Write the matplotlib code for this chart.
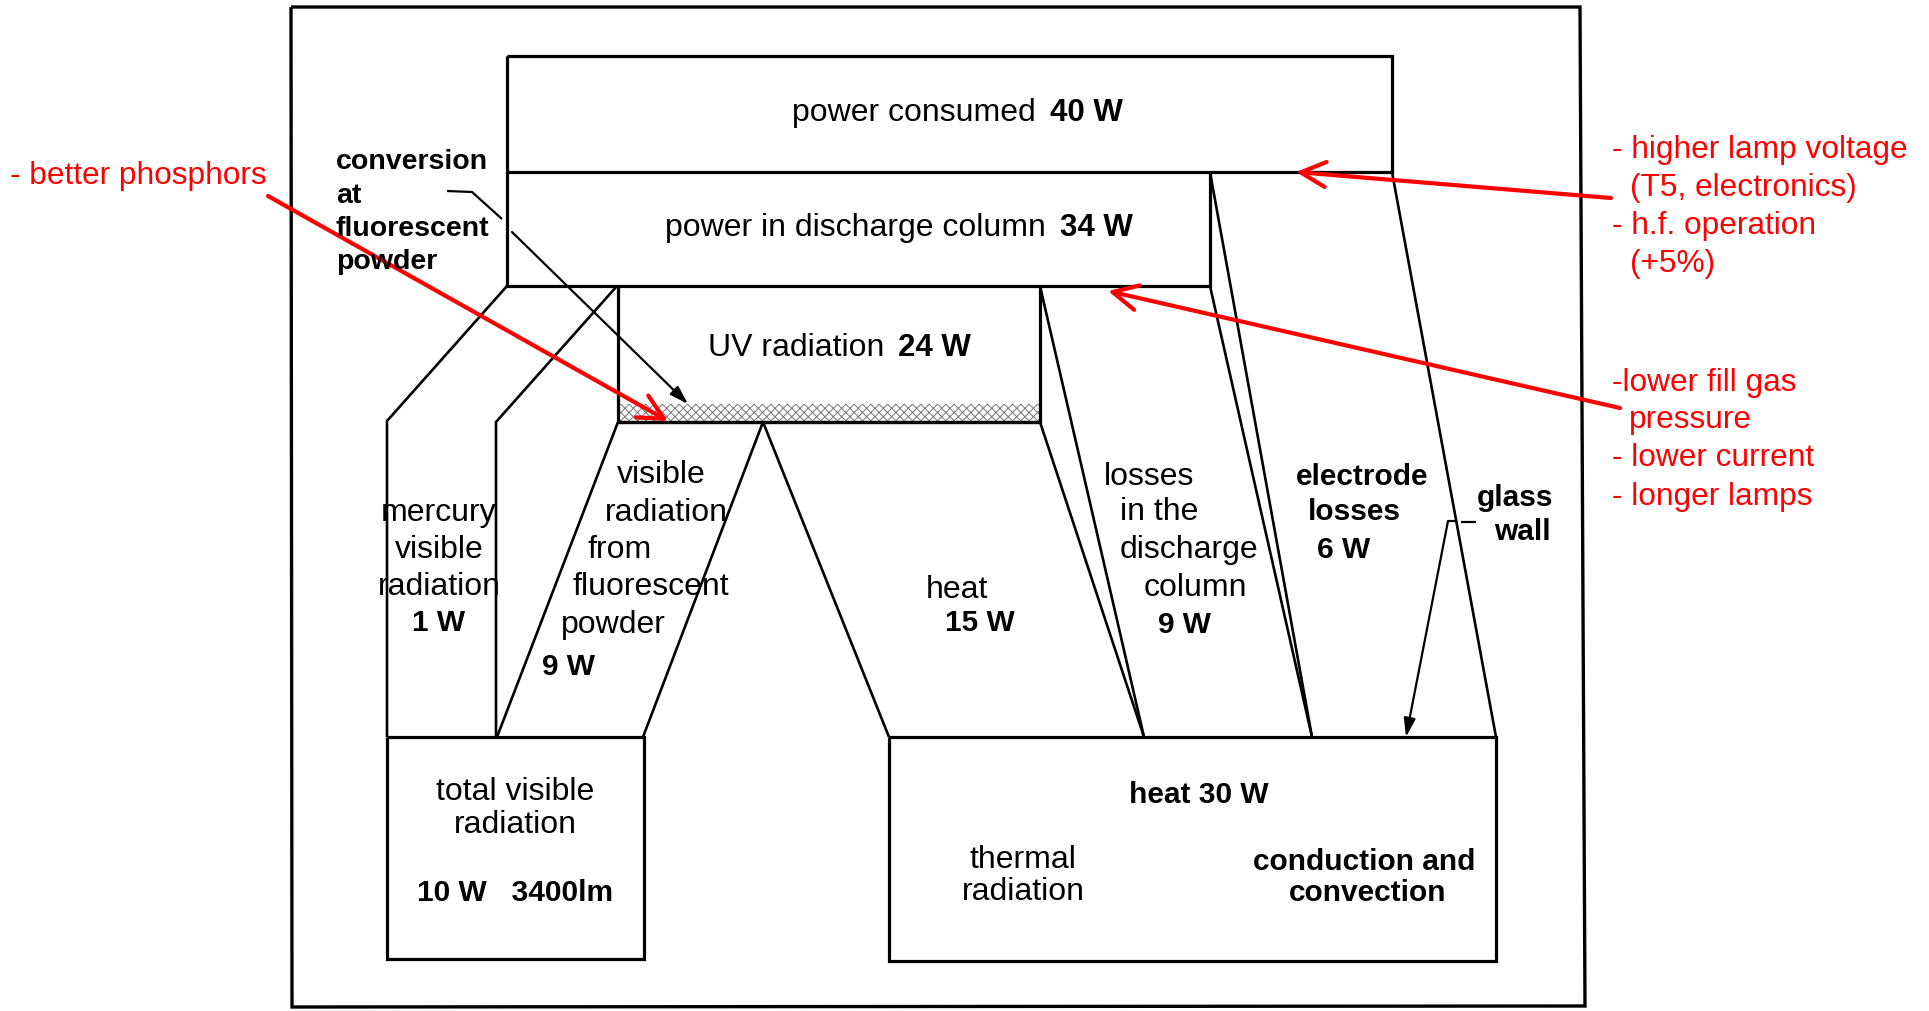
import matplotlib
matplotlib.use('Agg')
import matplotlib.pyplot as plt
from matplotlib.patches import Rectangle

# energy balance of a 40 W fluorescent lamp
stage_labels = ['power consumed', 'power in discharge column', 'UV radiation']
stage_watts = [40, 34, 24]
mercury_visible_w = 1
fluor_visible_w = 9
uv_heat_w = 15
column_loss_w = 9
electrode_loss_w = 6
total_visible_w = 10
total_lumen = 3400
total_heat_w = 30

notes_top = ['- higher lamp voltage', '(T5, electronics)', '- h.f. operation', '(+5%)']
notes_mid = ['-lower fill gas', 'pressure', '- lower current', '- longer lamps']
note_left = '- better phosphors'

FONT = 'Liberation Sans'
FS = 23      # regular labels
FSB = 21.5   # bold labels

plt.rcParams['hatch.linewidth'] = 0.7

fig = plt.figure(figsize=(19.29, 10.12), dpi=100)
ax = fig.add_axes([0, 0, 1, 1])
ax.set_xlim(0, 1929)
ax.set_ylim(1012, 0)
ax.axis('off')

K = 'black'
LW = 2.3   # box lines
FW = 1.9   # flow lines


def line(pts, lw=FW, color=K):
    xs, ys = zip(*pts)
    ax.plot(xs, ys, color=color, lw=lw, solid_capstyle='butt', solid_joinstyle='miter')


def txt(x, y, s, bold=False, ha='center', fs=None):
    if fs is None:
        fs = FSB if bold else FS
    ax.text(x, y, s, ha=ha, va='center', fontsize=fs, family=[FONT, 'DejaVu Sans'],
            fontweight='bold' if bold else 'normal', color=K)


def two_part(xs, y, left, right):
    txt(xs, y, left, ha='right')
    txt(xs + 14, y, right, bold=True, ha='left', fs=22.5)


# outer frame
line([(291, 8), (1580, 8), (1585, 1007), (292, 1008), (291, 8)], lw=2.4)

# boxes
line([(507, 57), (1392, 57), (1392, 173), (507, 173), (507, 57)], lw=LW)
line([(507, 173), (507, 287), (1210, 287), (1210, 173)], lw=LW)
line([(618, 287), (618, 423), (1040, 423), (1040, 287)], lw=LW)
ax.add_patch(Rectangle((618, 405), 422, 18, facecolor='white', edgecolor='#777777',
                       hatch='xxxx', lw=0))
line([(618, 423), (1040, 423)], lw=LW)
line([(387, 738), (644, 738), (644, 960), (387, 960), (387, 738)], lw=LW)
line([(889, 738), (1496, 738), (1496, 962), (889, 962), (889, 738)], lw=LW)

# flows
line([(507, 287), (387, 422), (387, 738)])
line([(617, 287), (496, 423), (496, 738)])
line([(618, 423), (497, 738)])
line([(763, 423), (643, 738)])
line([(763, 423), (889, 738)])
line([(1040, 423), (1144, 738)])
line([(1040, 287), (1144, 738)])
line([(1210, 173), (1312, 738)])
line([(1210, 287), (1312, 738)])
line([(1392, 173), (1496, 738)])

# leaders
line([(447, 192), (472, 193), (502, 220)], lw=1.6)
ax.annotate('', xy=(688, 405), xytext=(512, 233),
            arrowprops=dict(arrowstyle='-|>,head_length=0.8,head_width=0.25', color=K, lw=1.6,
                            shrinkA=0, shrinkB=0, mutation_scale=14))
line([(1448, 522), (1456, 522)], lw=1.6)
line([(1461, 523), (1476, 523)], lw=1.6)
ax.annotate('', xy=(1406, 738), xytext=(1448, 522),
            arrowprops=dict(arrowstyle='-|>,head_length=0.8,head_width=0.25', color=K, lw=1.6,
                            shrinkA=0, shrinkB=0, mutation_scale=14))

# red annotations
red_arrows = [((268, 197), (668, 422)), ((1611, 199), (1296, 173)), ((1620, 409), (1108, 292))]
for start, tip in red_arrows:
    ax.annotate('', xy=tip, xytext=start,
                arrowprops=dict(arrowstyle='->,head_length=0.9,head_width=0.45', color='red',
                                lw=3, shrinkA=0, shrinkB=0, mutation_scale=20))

RFS = 22.8
ax.text(10, 176, note_left, color='red', fontsize=RFS, family=FONT, va='center')
top_y = [150, 188, 226, 264]
mid_y = [383, 420, 458, 497]
for s, y in zip(notes_top, top_y):
    ax.text(1630 if s.startswith('(') else 1612, y, s, color='red', fontsize=RFS,
            family=FONT, va='center')
for s, y in zip(notes_mid, mid_y):
    ax.text(1629 if s[0] != '-' else 1612, y, s, color='red', fontsize=RFS,
            family=FONT, va='center')

# stage labels
two_part(1036, 113, stage_labels[0], f'{stage_watts[0]} W')
two_part(1046, 228, stage_labels[1], f'{stage_watts[1]} W')
two_part(884, 348, stage_labels[2], f'{stage_watts[2]} W')

# conversion note
for s, y in zip(['conversion', 'at', 'fluorescent', 'powder'], [162, 196, 229, 262]):
    txt(336, y, s, bold=True, ha='left', fs=20.5)

# flow labels
for s, y in zip(['mercury', 'visible', 'radiation'], [513, 550, 587]):
    txt(439, y, s)
txt(439, 623, f'{mercury_visible_w} W', bold=True)

for s, x, y in zip(['visible', 'radiation', 'from', 'fluorescent', 'powder'],
                   [661, 666, 620, 651, 613], [475, 513, 550, 587, 625]):
    txt(x, y, s)
txt(569, 667, f'{fluor_visible_w} W', bold=True)

txt(957, 590, 'heat')
txt(980, 623, f'{uv_heat_w} W', bold=True)

for s, x, y in zip(['losses', 'in the', 'discharge', 'column'],
                   [1149, 1159, 1189, 1195], [477, 512, 550, 588]):
    txt(x, y, s)
txt(1184, 625, f'{column_loss_w} W', bold=True)

txt(1362, 477, 'electrode', bold=True)
txt(1354, 512, 'losses', bold=True)
txt(1344, 550, f'{electrode_loss_w} W', bold=True)

txt(1515, 498, 'glass', bold=True)
txt(1522, 532, 'wall', bold=True)

# outputs
txt(515, 792, 'total visible')
txt(515, 825, 'radiation')
txt(515, 893, f'{total_visible_w} W   {total_lumen}lm', bold=True)

txt(1199, 795, f'heat {total_heat_w} W', bold=True)
txt(1023, 860, 'thermal')
txt(1023, 892, 'radiation')
txt(1364, 862, 'conduction and', bold=True)
txt(1368, 893, 'convection', bold=True)

plt.savefig('out.png', dpi=100)
